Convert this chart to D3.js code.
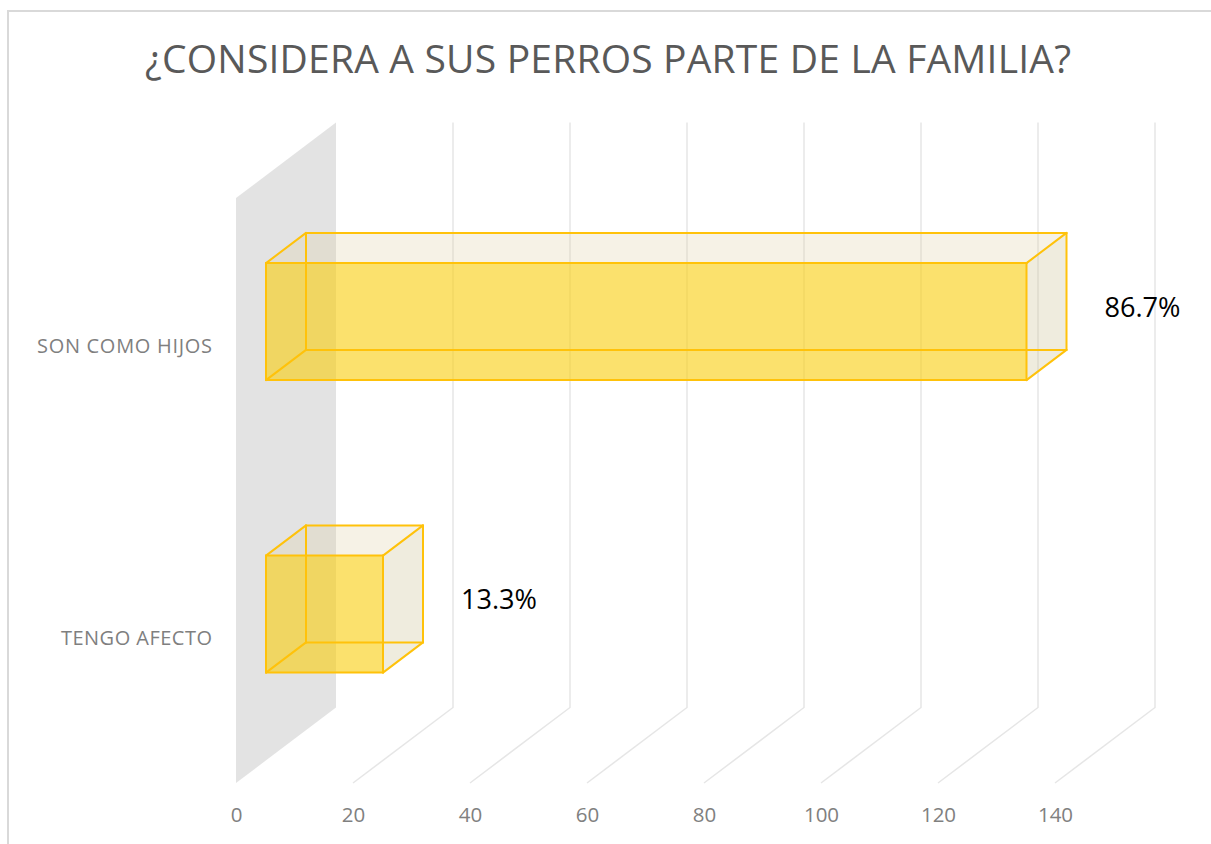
<!DOCTYPE html>
<html>
<head>
<meta charset="utf-8">
<script src="https://cdn.jsdelivr.net/npm/d3@7"></script>
<style>
  html, body { margin: 0; padding: 0; background: #fff; }
  svg { display: block; }
  text { font-family: "Open Sans", "Noto Sans", sans-serif; }
</style>
</head>
<body>
<svg id="chart" width="1211" height="844"></svg>
<script>
// Survey answers: how many respondents consider their dogs part of the family
const categories = ["SON COMO HIJOS", "TENGO AFECTO"];
const counts = [130, 20];
const tickValues = [0, 20, 40, 60, 80, 100, 120, 140];
const title = "¿CONSIDERA A SUS PERROS PARTE DE LA FAMILIA?";

const total = d3.sum(counts);
const pct = c => (c / total * 100).toFixed(1) + "%";

const svg = d3.select("#chart");

// Outer chart frame
svg.append("rect")
  .attr("x", 8).attr("y", 11)
  .attr("width", 1230).attr("height", 860)
  .attr("fill", "#fff")
  .attr("stroke", "#d9d9d9")
  .attr("stroke-width", 2);

// Front plane of the 3D plot, plus the depth direction vector
const plot = { left: 236, top: 198, bottom: 783 };
const DEPTH = [100, -75.5];
const barFront = 0.3, barBack = 0.7;

const x = d3.scaleLinear().domain([0, 140]).range([plot.left, plot.left + 7 * 117]);
const y = d3.scaleBand().domain(categories)
  .range([plot.top, plot.bottom])
  .paddingInner(0.6).paddingOuter(0.3);

// project (value, screen y on front plane, depth 0..1) to screen
const P = (v, yy, d) => [x(v) + d * DEPTH[0], yy + d * DEPTH[1]];
const poly = pts => pts.map(p => p.join(",")).join(" ");

// Side wall at value 0
svg.append("polygon")
  .attr("points", poly([P(0, plot.top, 0), P(0, plot.top, 1), P(0, plot.bottom, 1), P(0, plot.bottom, 0)]))
  .attr("fill", "#e3e3e3");

// Floor + back-wall gridlines
const grid = svg.append("g");
tickValues.filter(v => v > 0).forEach(v => {
  const a = P(v, plot.bottom, 0), b = P(v, plot.bottom, 1), c = P(v, plot.top, 1);
  grid.append("polyline")
    .attr("points", poly([a, b, c]))
    .attr("fill", "none")
    .attr("stroke", "#e6e6e6")
    .attr("stroke-width", 1.5);
});

// 3D bars
const edgeColor = "#ffc20a";
const bars = svg.append("g");
categories.forEach((cat, i) => {
  const v = counts[i];
  const y0 = y(cat), y1 = y0 + y.bandwidth();
  const g = bars.append("g");
  const f = barFront, b = barBack;
  // top face
  g.append("polygon")
    .attr("points", poly([P(0, y0, f), P(v, y0, f), P(v, y0, b), P(0, y0, b)]))
    .attr("fill", "rgb(222,206,160)").attr("fill-opacity", 0.26);
  // end face
  g.append("polygon")
    .attr("points", poly([P(v, y0, f), P(v, y0, b), P(v, y1, b), P(v, y1, f)]))
    .attr("fill", "rgb(209,198,158)").attr("fill-opacity", 0.34);
  // front face
  g.append("polygon")
    .attr("points", poly([P(0, y0, f), P(v, y0, f), P(v, y1, f), P(0, y1, f)]))
    .attr("fill", "rgb(249,206,20)").attr("fill-opacity", 0.62);
  // all twelve edges of the box
  const corners = d => ({
    a: P(0, y0, d), b: P(v, y0, d), c: P(v, y1, d), e: P(0, y1, d)
  });
  const F = corners(f), B = corners(b);
  const edges = [
    [F.a, F.b], [F.b, F.c], [F.c, F.e], [F.e, F.a],
    [B.a, B.b], [B.b, B.c], [B.c, B.e], [B.e, B.a],
    [F.a, B.a], [F.b, B.b], [F.c, B.c], [F.e, B.e]
  ];
  edges.forEach(([p, q]) => {
    g.append("line")
      .attr("x1", p[0]).attr("y1", p[1])
      .attr("x2", q[0]).attr("y2", q[1])
      .attr("stroke", edgeColor)
      .attr("stroke-width", 2)
      .attr("stroke-linecap", "round");
  });
});

// fit a text element to a given width
function fit(sel, w) {
  const node = sel.node();
  const natural = node.getComputedTextLength();
  sel.attr("textLength", w)
     .attr("lengthAdjust", natural > w ? "spacingAndGlyphs" : "spacing");
}

// Value labels
categories.forEach((cat, i) => {
  const v = counts[i];
  const cy = y(cat) + y.bandwidth() / 2 + 0.5 * DEPTH[1];
  const t = svg.append("text")
    .attr("x", x(v) + barBack * DEPTH[0] + 38)
    .attr("y", cy + 10)
    .attr("font-size", 28)
    .attr("fill", "#000")
    .text(pct(v));
  fit(t, 76);
});

// Category labels
const catWidths = { "SON COMO HIJOS": 175, "TENGO AFECTO": 151 };
categories.forEach(cat => {
  const t = svg.append("text")
    .attr("x", plot.left - 24)
    .attr("y", y(cat) + y.bandwidth() / 2 + 8.5)
    .attr("text-anchor", "end")
    .attr("font-size", 20)
    .attr("fill", "#7f7f7f")
    .text(cat);
  fit(t, catWidths[cat]);
});

// Value axis tick labels
const xAxis = d3.axisBottom(x).tickValues(tickValues).tickSize(0).tickPadding(0);
const axisG = svg.append("g")
  .attr("transform", `translate(0,${plot.bottom})`)
  .call(xAxis);
axisG.select(".domain").remove();
axisG.selectAll("text")
  .attr("dy", null)
  .attr("y", 39)
  .attr("font-size", 20.5)
  .attr("font-family", "'Open Sans', sans-serif")
  .attr("fill", "#808080");

// Title
const tt = svg.append("text")
  .attr("x", 608)
  .attr("y", 73)
  .attr("text-anchor", "middle")
  .attr("font-size", 39)
  .attr("fill", "#595959")
  .text(title);
fit(tt, 926);
</script>
</body>
</html>
